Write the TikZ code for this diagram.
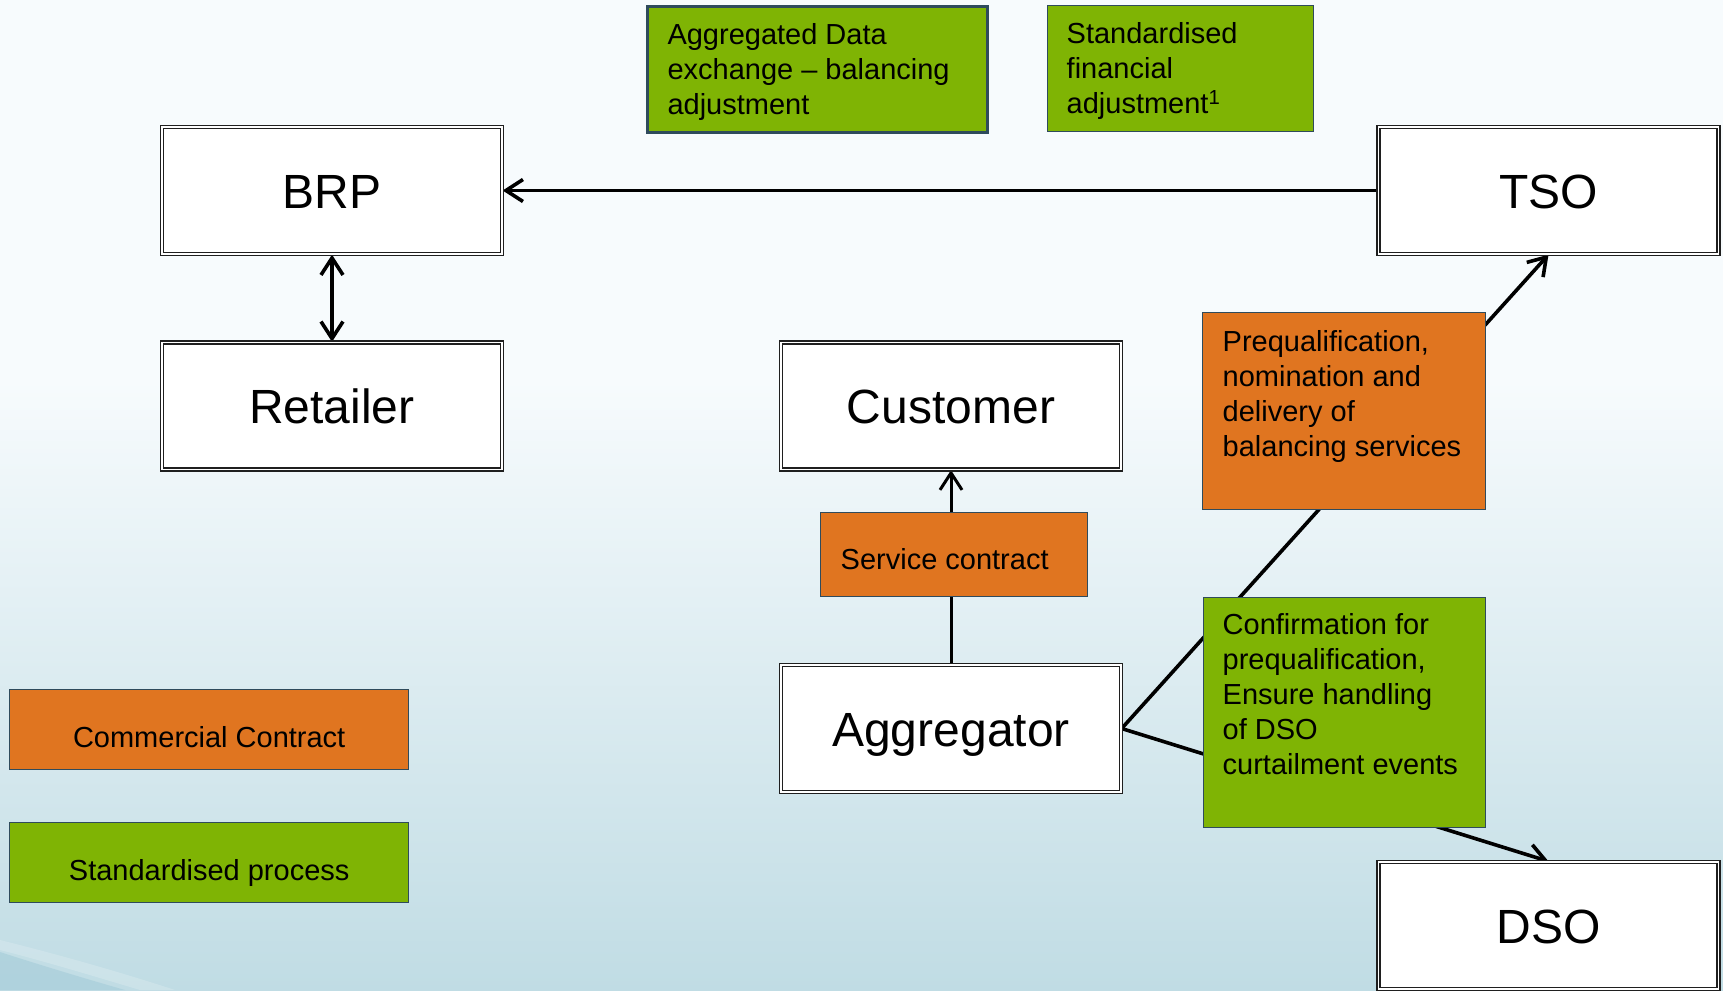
\documentclass[tikz,border=0pt]{standalone}
\usepackage{fontspec}
\setmainfont{Liberation Sans}
\usetikzlibrary{arrows.meta}
\definecolor{orng}{HTML}{E07520}
\definecolor{grn}{HTML}{7FB404}
\definecolor{edgec}{HTML}{2F4B5C}
\definecolor{bgtop}{HTML}{F7FBFD}
\definecolor{bgbot}{HTML}{C0DCE4}
\definecolor{bgdark}{HTML}{9FC9D7}
\pgfdeclarelayer{bg}
\pgfdeclarelayer{lines}
\pgfsetlayers{bg,lines,main}
\newcommand{\boxL}[5]{\parbox[c][#1][t]{#2}{\vspace*{#4}\raggedright\leftskip=#3\relax #5}}
\newcommand{\boxC}[4]{\parbox[c][#1][t]{#2}{\vspace*{#3}\centering #4}}
\begin{document}
\begin{tikzpicture}[x=1pt,y=-1pt,
  >={Straight Barb[length=17pt,width=22pt]},
  ent/.style={draw=black!88, line width=1.3pt, double=white, double distance=1.6pt,
    fill=white, minimum width=340pt, minimum height=127pt, inner sep=0pt,
    font=\fontsize{48}{56}\selectfont, text height=35pt, text depth=0pt},
  tag/.style={rectangle, draw=edgec, line width=1.4pt, inner sep=0pt,
    anchor=north west, font=\fontsize{29}{35}\selectfont},
  conn/.style={line width=3.6pt, draw=black}
]
\useasboundingbox (0,0) rectangle (1723,990);
\begin{pgfonlayer}{bg}
  \fill[bgtop] (0,0) rectangle (1723,990);
  \shade[top color=bgtop, bottom color=bgbot] (0,380) rectangle (1723,990);
  \fill[bgdark, opacity=.5] (0,952) .. controls (40,965) and (90,980) .. (125,990) -- (0,990) -- cycle;
  \fill[white, opacity=.18] (0,940) .. controls (60,955) and (120,972) .. (175,990) -- (140,990) .. controls (90,975) and (40,960) .. (0,950) -- cycle;
\end{pgfonlayer}

% main entities
\node[ent] (brp)  at (332,190.5) {BRP};
\node[ent] (ret)  at (332,406) {Retailer};
\node[ent] (cust) at (951,406) {Customer};
\node[ent] (agg)  at (951,728.5) {Aggregator};
\node[ent] (tso)  at (1548.5,190.5) {TSO};
\node[ent] (dso)  at (1548.5,925.5) {DSO};

% label boxes
\node[tag, fill=grn, line width=3pt] (aggdata) at (646,5)
  {\boxL{126pt}{340pt}{20pt}{17pt}{Aggregated Data\\exchange – balancing\\adjustment}};
\node[tag, fill=grn] (finadj) at (1047,5)
  {\boxL{126pt}{266pt}{19pt}{17pt}{Standardised\\financial\\adjustment\textsuperscript{1}}};
\node[tag, fill=orng] (prequal) at (1202,312)
  {\boxL{197pt}{283pt}{20pt}{18pt}{Prequalification,\\nomination and\\delivery of\\balancing services}};
\node[tag, fill=grn] (confirm) at (1203,597)
  {\boxL{230pt}{282pt}{19pt}{16pt}{Confirmation for\\prequalification,\\Ensure handling\\of DSO\\curtailment events}};
\node[tag, fill=orng] (service) at (820,512)
  {\boxL{84pt}{267pt}{20pt}{36pt}{Service contract}};
\node[tag, fill=orng] (legcc) at (9,689)
  {\boxC{80pt}{399pt}{37pt}{Commercial Contract}};
\node[tag, fill=grn] (legsp) at (9,822)
  {\boxC{80pt}{399pt}{37pt}{Standardised process}};

% connectors
\begin{pgfonlayer}{lines}
  \draw[conn,->] (tso.west) -- (brp.east);
  \draw[conn,<->] (brp.south) -- (ret.north);
  \draw[conn,line width=3pt,->] (agg.north) -- (cust.south);
  \draw[conn,->] (agg.east) -- (tso.south);
  \draw[conn,->] (agg.east) -- (dso.north);
\end{pgfonlayer}
\end{tikzpicture}
\end{document}
